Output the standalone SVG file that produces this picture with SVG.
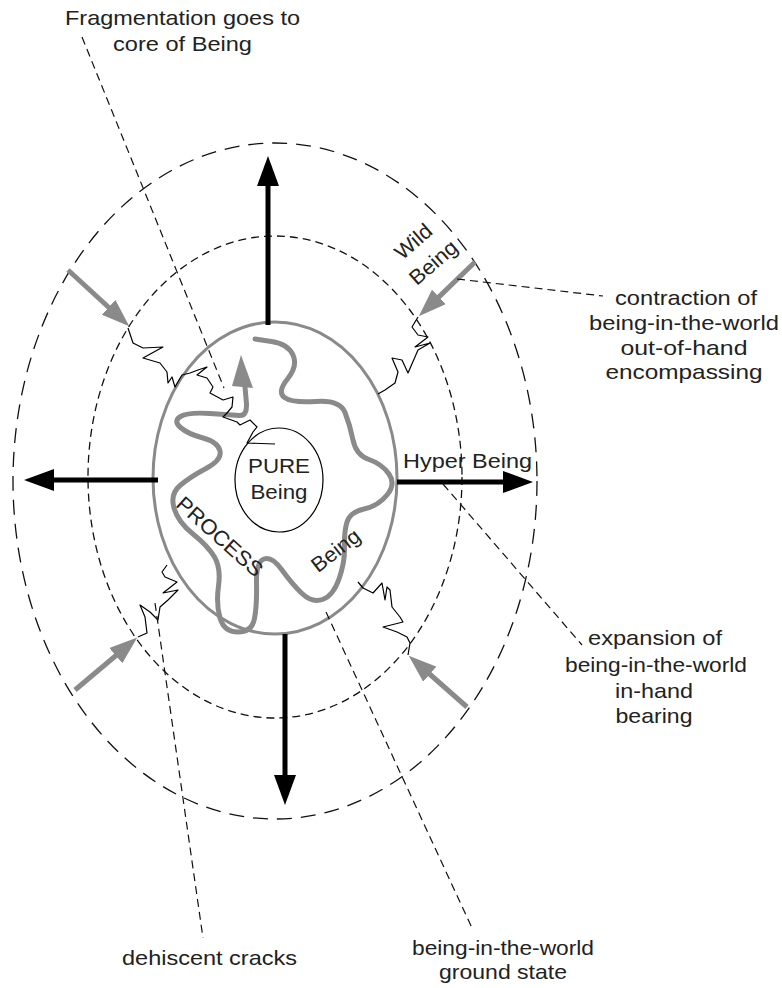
<svg xmlns="http://www.w3.org/2000/svg" width="782" height="988" viewBox="0 0 782 988">
<style>
.t{font-family:"Liberation Sans",Arial,sans-serif;font-size:21px;fill:#222}
.dOuter{fill:none;stroke:#111;stroke-width:1.3;stroke-dasharray:15 9}
.dInner{fill:none;stroke:#111;stroke-width:1.3;stroke-dasharray:8 5}
.lead{fill:none;stroke:#111;stroke-width:1.2;stroke-dasharray:8 5}
.blk{fill:none;stroke:#000;stroke-width:5}
.gry{fill:none;stroke:#8a8a8a;stroke-width:5}
.crack{fill:none;stroke:#000;stroke-width:1.2;stroke-linejoin:round}
</style>
<defs>
<marker id="hb" markerUnits="userSpaceOnUse" markerWidth="31" markerHeight="22" refX="1" refY="11" orient="auto"><path d="M0,0 L30,11 L0,22 z" fill="#000"/></marker>
<marker id="hg" markerUnits="userSpaceOnUse" markerWidth="29" markerHeight="20" refX="1" refY="10" orient="auto"><path d="M0,0 L28,10 L0,20 z" fill="#8a8a8a"/></marker>
</defs>
<rect width="782" height="988" fill="#fff"/>
<g id="outer-ring"><ellipse class="dOuter" cx="275" cy="481" rx="262" ry="338"/></g>
<g id="inner-ring"><ellipse class="dInner" cx="275" cy="477" rx="187" ry="241"/></g>
<g id="being-oval"><ellipse cx="275" cy="478" rx="122" ry="156" fill="none" stroke="#8a8a8a" stroke-width="3"/></g>
<g id="process">
<path d="M255,339 L271.5,341.5 Q288,344 293,355 Q298,366 287.5,379 Q277,392 284.5,397.5 Q292,403 316,401.5 Q340,400 345,412.5 Q350,425 353,440 Q356,455 369,459.5 Q382,464 389,474 Q396,484 387,495 Q378,506 364,509 Q350,512 347,522 Q344,532 344.5,547 Q345,562 339,579 Q333,596 322.5,599.5 Q312,603 302,593.5 Q292,584 282,570 Q272,556 264,559 Q256,562 256.5,583.5 Q257,605 254.5,618.5 Q252,632 238,632 Q224,632 220,618 Q216,604 218.5,586 Q221,568 214.5,557 Q208,546 193,534 Q178,522 174,508 Q170,494 180,485.5 Q190,477 206,468.5 Q222,460 220,451 Q218,442 203,438 Q188,434 180.5,427.5 Q173,421 180.5,416.5 Q188,412 210,413.5 Q232,415 239.5,415.5 Q247,416 246.5,404 L245,387" fill="none" stroke="#8a8a8a" stroke-width="5" stroke-linecap="round" stroke-linejoin="round"/>
<polygon points="241,355 253,388 232,386" fill="#8a8a8a"/>
<text class="t" transform="translate(215,542) rotate(42)" text-anchor="middle" textLength="108" lengthAdjust="spacingAndGlyphs">PROCESS</text>
<text class="t" transform="translate(340,556) rotate(-38)" text-anchor="middle" textLength="56" lengthAdjust="spacingAndGlyphs">Being</text>
</g>
<g id="pure-being">
<ellipse cx="279" cy="480" rx="44" ry="52" fill="#fff" stroke="#000" stroke-width="1.2"/>
<text class="t" x="279" y="473" text-anchor="middle" textLength="62" lengthAdjust="spacingAndGlyphs">PURE</text>
<text class="t" x="279" y="499" text-anchor="middle" textLength="57" lengthAdjust="spacingAndGlyphs">Being</text>
</g>
<g id="wild-being">
<text class="t" transform="translate(418,247) rotate(-41)" text-anchor="middle" textLength="42" lengthAdjust="spacingAndGlyphs">Wild</text>
<text class="t" transform="translate(438,268) rotate(-41)" text-anchor="middle" textLength="56" lengthAdjust="spacingAndGlyphs">Being</text>
</g>
<g id="hyper-being"><text class="t" x="403" y="468" textLength="129" lengthAdjust="spacingAndGlyphs">Hyper Being</text></g>
<g id="cracks">
<polyline class="crack" points="128,328 133,343 143,348 163,347 143,358 160,363 167,372 168,383 172,377 175,387 182,375 190,373 198,370 207,367 197,375 207,378 213,387 210,393 223,400 233,397 232,407 227,413 223,417 237,422 240,425 250,420 257,427 253,432 247,443 275,444"/>
<polyline class="crack" points="418,317 412,327 418,335 428,337 415,347 430,343 418,350 408,373 402,360 392,358 398,372 395,383 385,390 378,394"/>
<polyline class="crack" points="138,637 147,633 145,617 140,605 150,612 158,620 160,607 168,600 178,590 163,593 177,582 165,577 162,572 167,565"/>
<polyline class="crack" points="408,655 410,643 407,637 397,632 383,627 403,622 400,617 392,607 390,590 387,587 385,600 382,583 373,593 363,588 358,582"/>
</g>
<g id="connectors">
<line class="blk" x1="268" y1="325" x2="268" y2="185" marker-end="url(#hb)"/>
<line class="blk" x1="285" y1="634" x2="285" y2="776" marker-end="url(#hb)"/>
<line class="blk" x1="158" y1="480" x2="53" y2="480" marker-end="url(#hb)"/>
<line class="blk" x1="397" y1="482" x2="504" y2="482" marker-end="url(#hb)"/>
<line class="gry" x1="68" y1="270" x2="109.4" y2="308" marker-end="url(#hg)"/>
<line class="gry" x1="475" y1="262" x2="438.2" y2="297.6" marker-end="url(#hg)"/>
<line class="gry" x1="75" y1="690" x2="116.6" y2="655" marker-end="url(#hg)"/>
<line class="gry" x1="467" y1="707" x2="429" y2="673.5" marker-end="url(#hg)"/>
<line class="lead" x1="82" y1="37" x2="224" y2="388"/>
<line class="lead" x1="457" y1="279" x2="603" y2="296"/>
<line class="lead" x1="443" y1="484" x2="582" y2="645"/>
<line class="lead" x1="155" y1="603" x2="203" y2="938"/>
<line class="lead" x1="326" y1="612" x2="472" y2="928"/>
</g>
<g id="labels">
<text class="t" x="182.5" y="25" text-anchor="middle" textLength="235" lengthAdjust="spacingAndGlyphs">Fragmentation goes to</text>
<text class="t" x="182.5" y="51" text-anchor="middle" textLength="139" lengthAdjust="spacingAndGlyphs">core of Being</text>
<text class="t" x="686" y="305" text-anchor="middle" textLength="142" lengthAdjust="spacingAndGlyphs">contraction of</text>
<text class="t" x="684" y="330" text-anchor="middle" textLength="190" lengthAdjust="spacingAndGlyphs">being-in-the-world</text>
<text class="t" x="684" y="355" text-anchor="middle" textLength="127" lengthAdjust="spacingAndGlyphs">out-of-hand</text>
<text class="t" x="684" y="379" text-anchor="middle" textLength="157" lengthAdjust="spacingAndGlyphs">encompassing</text>
<text class="t" x="655" y="645" text-anchor="middle" textLength="134" lengthAdjust="spacingAndGlyphs">expansion of</text>
<text class="t" x="656" y="672" text-anchor="middle" textLength="182" lengthAdjust="spacingAndGlyphs">being-in-the-world</text>
<text class="t" x="654" y="698" text-anchor="middle" textLength="78" lengthAdjust="spacingAndGlyphs">in-hand</text>
<text class="t" x="654" y="723" text-anchor="middle" textLength="77" lengthAdjust="spacingAndGlyphs">bearing</text>
<text class="t" x="209.5" y="965" text-anchor="middle" textLength="175" lengthAdjust="spacingAndGlyphs">dehiscent cracks</text>
<text class="t" x="503" y="955" text-anchor="middle" textLength="182" lengthAdjust="spacingAndGlyphs">being-in-the-world</text>
<text class="t" x="503" y="979" text-anchor="middle" textLength="128" lengthAdjust="spacingAndGlyphs">ground state</text>
</g>
</svg>
